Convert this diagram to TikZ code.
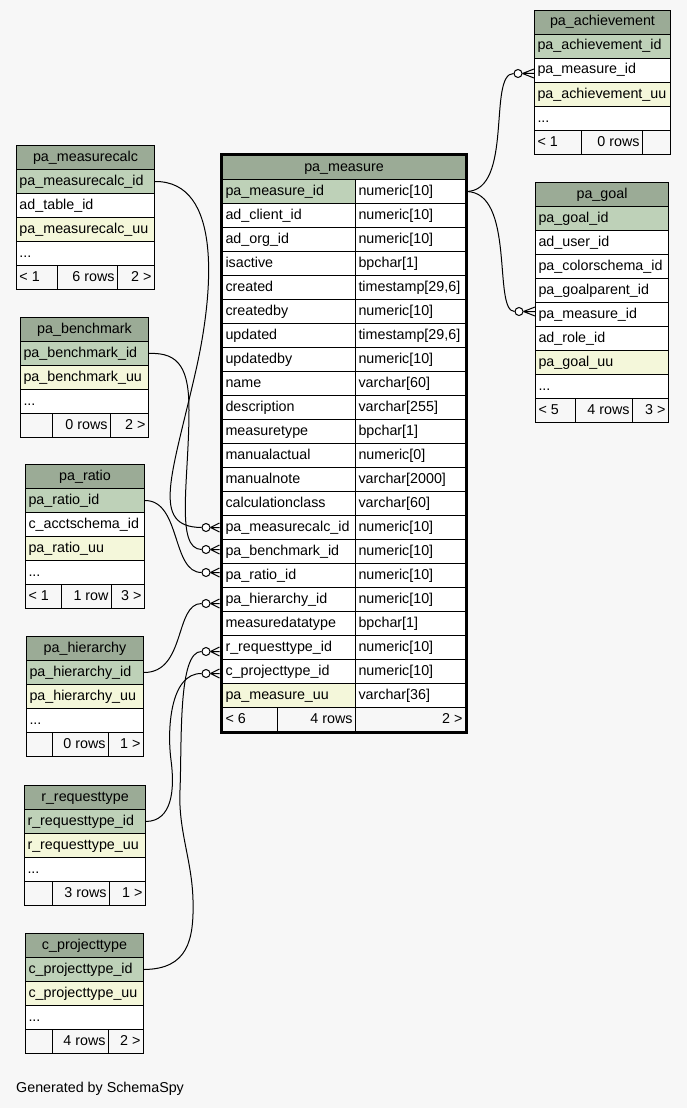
\documentclass[tikz,border=0pt]{standalone}
\usepackage{fontspec}
\setmainfont{Liberation Sans}
\usetikzlibrary{calc}
\definecolor{bgc}{HTML}{F7F7F7}
\definecolor{hdr}{HTML}{9BAB96}
\definecolor{pk}{HTML}{BED1B8}
\definecolor{uu}{HTML}{F4F7DA}
\definecolor{foot}{HTML}{F7F7F7}
\newcommand\tabfont{\fontsize{14.3}{16}\selectfont}
\newcommand\tsz{timestamp[29,6]}
\newcommand\rc[7]{\pgfmathsetmacro\tw{#4-6}\node[cellbox,fill=#5] (#1) at (#2,#3) {\makebox[\tw pt][#6]{#7}};}
\begin{document}
\begin{tikzpicture}[x=1pt,y=-1pt,
  cellbox/.style={draw=black, line width=1pt, anchor=north west, inner xsep=3pt, inner ysep=0pt,
    minimum height=24pt, text height=10pt, text depth=3pt, font=\tabfont},
  conn/.style={draw=black, line width=1pt},
  odot/.style={circle, draw=black, fill=white, minimum size=8pt, inner sep=0pt, line width=1pt}]
\useasboundingbox (0,0) rectangle (687,1108);
\fill[bgc] (0,0) rectangle (687,1108);

% ---------------- pa_achievement
\rc{ach-h}{534}{10}{136}{hdr}{c}{pa\_achievement}
\rc{ach-pk}{534}{34}{136}{pk}{l}{pa\_achievement\_id}
\rc{ach-m}{534}{58}{136}{white}{l}{pa\_measure\_id}
\rc{ach-uu}{534}{82}{136}{uu}{l}{pa\_achievement\_uu}
\rc{ach-x}{534}{106}{136}{white}{l}{...}
\rc{ach-f1}{534}{130}{47}{foot}{l}{< 1}
\rc{ach-f2}{581}{130}{61}{foot}{r}{0 rows}
\rc{ach-f3}{642}{130}{28}{foot}{r}{}

% ---------------- pa_goal
\rc{g-h}{535}{182}{133}{hdr}{c}{pa\_goal}
\rc{g-pk}{535}{206}{133}{pk}{l}{pa\_goal\_id}
\rc{g-1}{535}{230}{133}{white}{l}{ad\_user\_id}
\rc{g-2}{535}{254}{133}{white}{l}{pa\_colorschema\_id}
\rc{g-3}{535}{278}{133}{white}{l}{pa\_goalparent\_id}
\rc{g-m}{535}{302}{133}{white}{l}{pa\_measure\_id}
\rc{g-5}{535}{326}{133}{white}{l}{ad\_role\_id}
\rc{g-uu}{535}{350}{133}{uu}{l}{pa\_goal\_uu}
\rc{g-x}{535}{374}{133}{white}{l}{...}
\rc{g-f1}{535}{398}{40}{foot}{l}{< 5}
\rc{g-f2}{575}{398}{57}{foot}{r}{4 rows}
\rc{g-f3}{632}{398}{36}{foot}{r}{3 >}

% ---------------- pa_measurecalc
\rc{mc-h}{16}{145}{138}{hdr}{c}{pa\_measurecalc}
\rc{mc-pk}{16}{169}{138}{pk}{l}{pa\_measurecalc\_id}
\rc{mc-1}{16}{193}{138}{white}{l}{ad\_table\_id}
\rc{mc-uu}{16}{217}{138}{uu}{l}{pa\_measurecalc\_uu}
\rc{mc-x}{16}{241}{138}{white}{l}{...}
\rc{mc-f1}{16}{265}{41}{foot}{l}{< 1}
\rc{mc-f2}{57}{265}{60}{foot}{r}{6 rows}
\rc{mc-f3}{117}{265}{37}{foot}{r}{2 >}

% ---------------- pa_benchmark
\rc{bm-h}{20}{317}{128}{hdr}{c}{pa\_benchmark}
\rc{bm-pk}{20}{341}{128}{pk}{l}{pa\_benchmark\_id}
\rc{bm-uu}{20}{365}{128}{uu}{l}{pa\_benchmark\_uu}
\rc{bm-x}{20}{389}{128}{white}{l}{...}
\rc{bm-f1}{20}{413}{32}{foot}{l}{}
\rc{bm-f2}{52}{413}{58}{foot}{r}{0 rows}
\rc{bm-f3}{110}{413}{38}{foot}{r}{2 >}

% ---------------- pa_ratio
\rc{ra-h}{25}{464}{119}{hdr}{c}{pa\_ratio}
\rc{ra-pk}{25}{488}{119}{pk}{l}{pa\_ratio\_id}
\rc{ra-1}{25}{512}{119}{white}{l}{c\_acctschema\_id}
\rc{ra-uu}{25}{536}{119}{uu}{l}{pa\_ratio\_uu}
\rc{ra-x}{25}{560}{119}{white}{l}{...}
\rc{ra-f1}{25}{584}{36}{foot}{l}{< 1}
\rc{ra-f2}{61}{584}{50}{foot}{r}{1 row}
\rc{ra-f3}{111}{584}{33}{foot}{r}{3 >}

% ---------------- pa_hierarchy
\rc{hi-h}{26}{636}{117}{hdr}{c}{pa\_hierarchy}
\rc{hi-pk}{26}{660}{117}{pk}{l}{pa\_hierarchy\_id}
\rc{hi-uu}{26}{684}{117}{uu}{l}{pa\_hierarchy\_uu}
\rc{hi-x}{26}{708}{117}{white}{l}{...}
\rc{hi-f1}{26}{732}{26}{foot}{l}{}
\rc{hi-f2}{52}{732}{56}{foot}{r}{0 rows}
\rc{hi-f3}{108}{732}{35}{foot}{r}{1 >}

% ---------------- r_requesttype
\rc{rq-h}{24}{785}{121}{hdr}{c}{r\_requesttype}
\rc{rq-pk}{24}{809}{121}{pk}{l}{r\_requesttype\_id}
\rc{rq-uu}{24}{833}{121}{uu}{l}{r\_requesttype\_uu}
\rc{rq-x}{24}{857}{121}{white}{l}{...}
\rc{rq-f1}{24}{881}{28}{foot}{l}{}
\rc{rq-f2}{52}{881}{57}{foot}{r}{3 rows}
\rc{rq-f3}{109}{881}{36}{foot}{r}{1 >}

% ---------------- c_projecttype
\rc{pt-h}{25}{933}{118}{hdr}{c}{c\_projecttype}
\rc{pt-pk}{25}{957}{118}{pk}{l}{c\_projecttype\_id}
\rc{pt-uu}{25}{981}{118}{uu}{l}{c\_projecttype\_uu}
\rc{pt-x}{25}{1005}{118}{white}{l}{...}
\rc{pt-f1}{25}{1029}{27}{foot}{l}{}
\rc{pt-f2}{52}{1029}{56}{foot}{r}{4 rows}
\rc{pt-f3}{108}{1029}{35}{foot}{r}{2 >}

% ---------------- pa_measure
\rc{m-h}{222}{155}{243}{hdr}{c}{pa\_measure}
\foreach \i/\n/\t/\f in {
  1/pa\_measure\_id/numeric[10]/pk,
  2/ad\_client\_id/numeric[10]/white,
  3/ad\_org\_id/numeric[10]/white,
  4/isactive/bpchar[1]/white,
  5/created/\tsz/white,
  6/createdby/numeric[10]/white,
  7/updated/\tsz/white,
  8/updatedby/numeric[10]/white,
  9/name/varchar[60]/white,
  10/description/varchar[255]/white,
  11/measuretype/bpchar[1]/white,
  12/manualactual/numeric[0]/white,
  13/manualnote/varchar[2000]/white,
  14/calculationclass/varchar[60]/white,
  15/pa\_measurecalc\_id/numeric[10]/white,
  16/pa\_benchmark\_id/numeric[10]/white,
  17/pa\_ratio\_id/numeric[10]/white,
  18/pa\_hierarchy\_id/numeric[10]/white,
  19/measuredatatype/bpchar[1]/white,
  20/r\_requesttype\_id/numeric[10]/white,
  21/c\_projecttype\_id/numeric[10]/white,
  22/pa\_measure\_uu/varchar[36]/uu}{
  \pgfmathsetmacro\yy{155+24*\i}
  \rc{m\i}{222}{\yy}{133}{\f}{l}{\n}
  \rc{mt\i}{355}{\yy}{110}{white}{l}{\t}
}
\rc{m-f1}{222}{707}{55}{foot}{l}{< 6}
\rc{m-f2}{277}{707}{78}{foot}{r}{4 rows}
\rc{m-f3}{355}{707}{110}{foot}{r}{2 >}
\draw[line width=3pt] (221,154.5) rectangle (466,732.5);

% ---------------- circles (optional-one ends)
\node[odot] (o-ach) at ($(ach-m.west)+(-16,3)$) {};
\node[odot] (o-g) at ($(g-m.west)+(-16,-3)$) {};
\node[odot] (o15) at ($(m15.west)+(-16,0)$) {};
\node[odot] (o16) at ($(m16.west)+(-16,-2)$) {};
\node[odot] (o17) at ($(m17.west)+(-16,-3)$) {};
\node[odot] (o18) at ($(m18.west)+(-16,4)$) {};
\node[odot] (o20) at ($(m20.west)+(-16,4)$) {};
\node[odot] (o21) at ($(m21.west)+(-16,2)$) {};

% ---------------- connectors
\draw[conn] (mt1.east) .. controls +(48,0) and +(-26,0) .. (o-ach.west);
\draw[conn] (mt1.east) .. controls +(50,0) and +(-22,0) .. (o-g.west);
\draw[conn] (mc-pk.east) .. controls (222,181) and (214,290) .. (196,370)
            .. controls (172,476) and (150,527) .. (o15.west);
\draw[conn] (bm-pk.east) .. controls (180,352) and (189,370) .. (189,410)
            .. controls (189,480) and (175,549) .. (o16.west);
\draw[conn] (ra-pk.east) .. controls +(36,0) and +(-30,0) .. (o17.west);
\draw[conn] (hi-pk.east) .. controls +(42,0) and +(-27,0) .. (o18.west);
\draw[conn] (rq-pk.east) .. controls (172,821) and (175,790) .. (171,760)
            .. controls (167,730) and (170,673) .. (o21.west);
\draw[conn] (pt-pk.east) .. controls (188,969) and (194,940) .. (193,900)
            .. controls (192,860) and (178,830) .. (180,790)
            .. controls (182,740) and (178,651) .. (o20.west);

% ---------------- crow's feet
\foreach \o/\r/\dx/\dy in {o-ach/ach-m/0/3, o-g/g-m/0/-3, o15/m15/-2.5/0, o16/m16/-2.5/-2,
    o17/m17/-2.5/-3, o18/m18/-2.5/4, o20/m20/-2.5/4, o21/m21/-2.5/2}{
  \draw[conn] (\o.east) -- ($(\r.west)+(\dx,\dy-4.5)$)
              (\o.east) -- ($(\r.west)+(\dx,\dy)$)
              (\o.east) -- ($(\r.west)+(\dx,\dy+4.5)$);
}

\node[anchor=base west, font=\tabfont, inner sep=0pt] (gen) at (16,1092) {Generated by SchemaSpy};
\end{tikzpicture}
\end{document}
